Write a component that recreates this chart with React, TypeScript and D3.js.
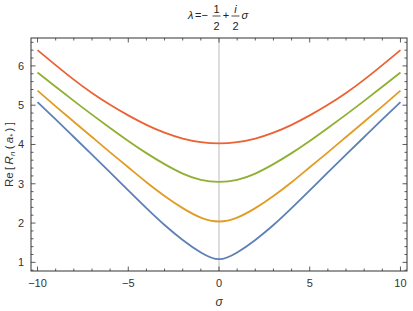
import { useEffect, useRef } from "react";
import * as d3 from "d3";

// sigma sample points and curve values
const sigma = [-10, -9, -8, -7, -6, -5, -4, -3, -2, -1, 0, 1, 2, 3, 4, 5, 6, 7, 8, 9, 10];
const blue = [5.08, 4.64, 4.19, 3.74, 3.29, 2.83, 2.38, 1.95, 1.57, 1.25, 1.08, 1.25, 1.57, 1.95, 2.38, 2.83, 3.29, 3.74, 4.19, 4.64, 5.08];
const orange = [5.37, 4.97, 4.58, 4.19, 3.8, 3.42, 3.04, 2.69, 2.38, 2.14, 2.04, 2.14, 2.38, 2.69, 3.04, 3.42, 3.8, 4.19, 4.58, 4.97, 5.37];
const green = [5.83, 5.47, 5.11, 4.76, 4.42, 4.09, 3.78, 3.5, 3.26, 3.1, 3.05, 3.1, 3.26, 3.5, 3.78, 4.09, 4.42, 4.76, 5.11, 5.47, 5.83];
const red = [6.4, 6.02, 5.65, 5.31, 5.01, 4.74, 4.5, 4.3, 4.15, 4.06, 4.03, 4.06, 4.15, 4.3, 4.5, 4.74, 5.01, 5.31, 5.65, 6.02, 6.4];
const xTicks = [-10, -5, 0, 5, 10];
const yTicks = [1, 2, 3, 4, 5, 6];

const series = [
  { values: blue, color: "#5E81B5" },
  { values: orange, color: "#E19C24" },
  { values: green, color: "#8FB032" },
  { values: red, color: "#EB6235" },
];

export default function App() {
  const svgRef = useRef<SVGSVGElement>(null);

  useEffect(() => {
    if (!svgRef.current) return;
    const svg = d3.select(svgRef.current);
    svg.selectAll("*").remove();

    const left = 31, right = 407, top = 38, bottom = 271;
    const x = d3.scaleLinear().domain([-10.36, 10.36]).range([left, right]);
    const y = d3.scaleLinear().domain([0.78, 6.71]).range([bottom, top]);
    const font = "'Liberation Sans', Arial, sans-serif";
    const ink = "#333";

    // zero line
    svg.append("line")
      .attr("x1", x(0)).attr("x2", x(0))
      .attr("y1", top).attr("y2", bottom)
      .attr("stroke", "#bbb").attr("stroke-width", 1);

    // curves
    const line = d3.line<number>()
      .x((_, i) => x(sigma[i]))
      .y((d) => y(d))
      .curve(d3.curveNatural);

    series.forEach((s) => {
      svg.append("path")
        .datum(s.values)
        .attr("fill", "none")
        .attr("stroke", s.color)
        .attr("stroke-width", 1.8)
        .attr("d", line);
    });

    // frame
    svg.append("rect")
      .attr("x", left).attr("y", top)
      .attr("width", right - left).attr("height", bottom - top)
      .attr("fill", "none").attr("stroke", ink).attr("stroke-width", 1);

    // ticks on all four sides
    const ticks = svg.append("g").attr("stroke", ink).attr("stroke-width", 0.8);
    d3.range(-10, 10.01, 1).forEach((v) => {
      const major = v % 5 === 0;
      const len = major ? 4.5 : 2.5;
      ticks.append("line").attr("x1", x(v)).attr("x2", x(v)).attr("y1", bottom).attr("y2", bottom - len);
      ticks.append("line").attr("x1", x(v)).attr("x2", x(v)).attr("y1", top).attr("y2", top + len);
    });
    d3.range(0.8, 6.71, 0.2).forEach((v) => {
      const major = Math.abs(v - Math.round(v)) < 1e-6;
      const len = major ? 4.5 : 2.5;
      ticks.append("line").attr("x1", left).attr("x2", left + len).attr("y1", y(v)).attr("y2", y(v));
      ticks.append("line").attr("x1", right).attr("x2", right - len).attr("y1", y(v)).attr("y2", y(v));
    });

    // tick labels
    svg.append("g").selectAll("text").data(xTicks).enter().append("text")
      .attr("x", (d) => x(d)).attr("y", 287)
      .attr("text-anchor", "middle")
      .attr("font-family", font).attr("font-size", 11).attr("fill", ink)
      .text((d) => (d < 0 ? "\u2212" + Math.abs(d) : String(d)));

    svg.append("g").selectAll("text").data(yTicks).enter().append("text")
      .attr("x", 24).attr("y", (d) => y(d) + 4)
      .attr("text-anchor", "end")
      .attr("font-family", font).attr("font-size", 11).attr("fill", ink)
      .text((d) => String(d));

    // axis labels
    svg.append("text")
      .attr("x", x(0)).attr("y", 306)
      .attr("text-anchor", "middle")
      .attr("font-family", font).attr("font-size", 12).attr("font-style", "italic").attr("fill", ink)
      .text("σ");

    const yl = svg.append("text")
      .attr("transform", `translate(13,${(top + bottom) / 2}) rotate(-90)`)
      .attr("text-anchor", "middle")
      .attr("font-family", font).attr("font-size", 11.5).attr("fill", ink)
      .attr("xml:space", "preserve");
    yl.append("tspan").text("Re\u2009[\u2009");
    yl.append("tspan").attr("font-style", "italic").text("R");
    yl.append("tspan").attr("font-style", "italic").attr("font-size", 8).attr("dy", 2).text("n");
    yl.append("tspan").attr("dy", -2).text("\u2009(\u2009");
    yl.append("tspan").attr("font-style", "italic").text("a");
    yl.append("tspan").attr("font-size", 8).attr("dy", 2).text("*");
    yl.append("tspan").attr("dy", -2).text("\u2009)\u2009]");

    // title: λ = −1/2 + i/2 σ
    const t = svg.append("g").attr("font-family", font).attr("font-size", 11).attr("fill", "#222");
    t.append("text").attr("x", 188).attr("y", 19).attr("font-style", "italic").text("λ");
    t.append("text").attr("x", 195).attr("y", 19).text("=\u2212");
    t.append("text").attr("x", 216.5).attr("y", 13).attr("text-anchor", "middle").text("1");
    t.append("line").attr("x1", 212.5).attr("x2", 220.5).attr("y1", 16).attr("y2", 16).attr("stroke", "#222").attr("stroke-width", 0.8);
    t.append("text").attr("x", 216.5).attr("y", 30).attr("text-anchor", "middle").text("2");
    t.append("text").attr("x", 226).attr("y", 19).attr("text-anchor", "middle").text("+");
    t.append("text").attr("x", 235.5).attr("y", 13).attr("text-anchor", "middle").attr("font-style", "italic").text("i");
    t.append("line").attr("x1", 231.5).attr("x2", 239.5).attr("y1", 16).attr("y2", 16).attr("stroke", "#222").attr("stroke-width", 0.8);
    t.append("text").attr("x", 235.5).attr("y", 30).attr("text-anchor", "middle").text("2");
    t.append("text").attr("x", 241.5).attr("y", 19).attr("font-style", "italic").text("σ");
  }, []);

  return (
    <div style={{ position: "fixed", left: 0, top: 0, background: "#fff" }}>
      <svg ref={svgRef} width={413} height={311} style={{ display: "block" }} />
    </div>
  );
}
